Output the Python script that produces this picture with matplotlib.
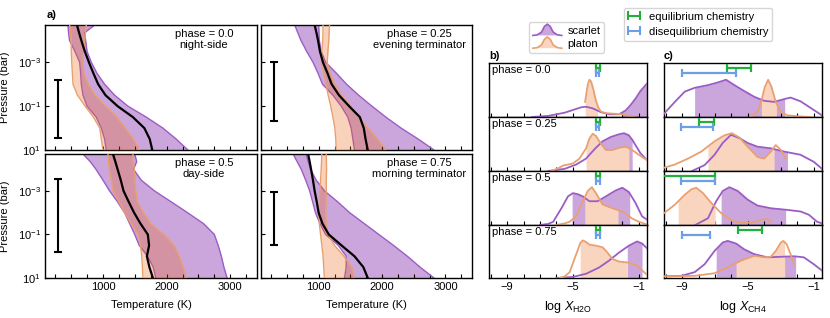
import numpy as np
import matplotlib
matplotlib.use('Agg')
import matplotlib.pyplot as plt
from matplotlib.legend_handler import HandlerBase
from matplotlib.lines import Line2D
from matplotlib.patches import Polygon
from matplotlib.ticker import MultipleLocator, FixedLocator, NullLocator

plt.rcParams['font.family'] = ['Liberation Sans', 'DejaVu Sans']
plt.rcParams['font.size'] = 8
plt.rcParams['mathtext.fontset'] = 'custom'
plt.rcParams['mathtext.rm'] = 'Liberation Sans'
plt.rcParams['mathtext.it'] = 'Liberation Sans:italic'
plt.rcParams['mathtext.bf'] = 'Liberation Sans:bold'

FS = 8

# ---------------- data ----------------
phases = ['0.0', '0.25', '0.5', '0.75']
phase_names = ['night-side', 'evening terminator', 'day-side', 'morning terminator']

# panel a: temperature profiles on a log-pressure grid (bar)
log_p = [-4.7, -4.35, -4.0, -3.5, -3.0, -2.5, -2.0, -1.5, -1.0, -0.5, 0.0, 0.5, 1.0]

scarlet_T_lo = [
    [451, 460, 475, 560, 634, 650, 660, 686, 750, 895, 974, 1026, 1052],
    [623, 670, 720, 810, 911, 990, 1060, 1225, 1356, 1460, 1513, 1540, 1565],
    [686, 800, 890, 1000, 1105, 1230, 1340, 1420, 1500, 1570, 1700, 1790, 1830],
    [597, 660, 725, 795, 859, 905, 950, 1020, 1110, 1310, 1434, 1434, 1408],
]
scarlet_T_hi = [
    [870, 712, 728, 750, 817, 906, 1026, 1183, 1392, 1680, 1941, 2150, 2334],
    [1000, 1005, 1010, 1040, 1110, 1280, 1440, 1630, 1840, 2060, 2300, 2570, 2820],
    [1500, 1530, 1480, 1600, 1811, 2073, 2330, 2580, 2750, 2810, 2860, 2900, 2950],
    [800, 835, 870, 960, 1094, 1300, 1490, 1720, 1950, 2180, 2400, 2600, 2820],
]
platon_T_lo = [
    [477, 490, 500, 503, 510, 520, 530, 600, 720, 850, 950, 975, 1000],
    [1068, 1068, 1065, 1050, 1042, 1080, 1115, 1150, 1190, 1225, 1255, 1270, 1277],
    [1078, 1085, 1100, 1130, 1157, 1250, 1340, 1440, 1550, 1590, 1610, 1620, 1628],
    [1050, 1045, 1040, 1030, 1016, 1010, 1005, 1010, 1030, 1050, 1070, 1080, 1090],
]
platon_T_hi = [
    [738, 725, 712, 695, 686, 700, 770, 880, 1040, 1220, 1350, 1480, 1575],
    [1173, 1165, 1160, 1146, 1135, 1180, 1260, 1360, 1510, 1630, 1780, 1930, 2062],
    [1471, 1480, 1490, 1505, 1515, 1540, 1640, 1750, 1960, 2120, 2200, 2260, 2310],
    [1120, 1122, 1125, 1120, 1120, 1115, 1110, 1120, 1150, 1250, 1400, 1520, 1560],
]
gcm_T = [
    [592, 625, 660, 715, 780, 850, 925, 1040, 1230, 1470, 1650, 1735, 1775],
    [937, 965, 990, 1020, 1068, 1140, 1205, 1320, 1480, 1650, 1712, 1740, 1775],
    [1157, 1195, 1230, 1280, 1324, 1405, 1490, 1590, 1705, 1725, 1690, 1730, 1785],
    [833, 858, 880, 910, 937, 970, 1000, 1060, 1160, 1360, 1565, 1705, 1775],
]
# pressure range bars (log10 bar)
range_T = 290
range_logp_top = [-2.2, -3.0, -3.53, -2.97]
range_logp_bot = [0.47, -0.32, -0.18, -0.5]

# panel b: log X_H2O posteriors (normalised density)
h2o_scarlet_x = [
    [-7.5, -6.5, -5.5, -5.0, -4.5, -4.2, -3.8, -3.3, -2.8, -2.2, -1.8, -1.5, -1.2, -0.9, -0.5],
    [-6.5, -5.5, -4.8, -4.2, -3.7, -3.2, -2.7, -2.2, -1.9, -1.6, -1.4, -1.1, -0.9, -0.5],
    [-7.0, -6.5, -6.2, -5.7, -5.3, -5.0, -4.7, -4.4, -4.0, -3.5, -3.0, -2.4, -2.0, -1.6, -1.2, -0.8, -0.5],
    [-6.0, -5.0, -4.2, -3.4, -2.8, -2.2, -1.6, -1.1, -0.8, -0.5],
]
h2o_scarlet_y = [
    [0.0, 0.02, 0.08, 0.13, 0.18, 0.19, 0.16, 0.09, 0.05, 0.05, 0.12, 0.22, 0.34, 0.48, 0.62],
    [0.0, 0.04, 0.12, 0.23, 0.4, 0.55, 0.63, 0.68, 0.7, 0.66, 0.58, 0.43, 0.33, 0.2],
    [0.0, 0.02, 0.06, 0.31, 0.53, 0.59, 0.57, 0.53, 0.44, 0.44, 0.53, 0.64, 0.69, 0.61, 0.41, 0.16, 0.1],
    [0.0, 0.02, 0.08, 0.2, 0.33, 0.48, 0.61, 0.69, 0.65, 0.56],
]
h2o_scarlet_ci = [[-2.0, -0.5], [-3.8, -1.4], [-5.05, -1.55], [-1.7, -0.8]]
h2o_platon_x = [
    [-4.26, -4.1, -4.0, -3.9, -3.75, -3.6, -3.45, -3.3, -3.0, -2.5, -2.0, -1.6, -1.3],
    [-6.3, -5.9, -5.6, -5.3, -5.0, -4.6, -4.2, -4.0, -3.8, -3.6, -3.4, -3.0, -2.6, -2.2, -1.8, -1.4, -1.0, -0.5],
    [-6.0, -5.5, -5.2, -4.8, -4.4, -4.1, -3.85, -3.6, -3.2, -2.6, -2.0, -1.4, -1.0, -0.5],
    [-5.8, -5.5, -5.2, -4.8, -4.55, -4.4, -4.2, -4.0, -3.6, -3.2, -2.9, -2.6, -2.2, -1.6, -1.1, -0.5],
]
h2o_platon_y = [
    [0.28, 0.6, 0.69, 0.66, 0.5, 0.3, 0.17, 0.1, 0.07, 0.06, 0.05, 0.02, 0.0],
    [0.0, 0.05, 0.1, 0.12, 0.14, 0.23, 0.42, 0.6, 0.69, 0.65, 0.55, 0.39, 0.39, 0.43, 0.45, 0.39, 0.3, 0.2],
    [0.0, 0.03, 0.06, 0.16, 0.44, 0.63, 0.7, 0.59, 0.38, 0.31, 0.25, 0.12, 0.06, 0.01],
    [0.0, 0.03, 0.11, 0.45, 0.66, 0.71, 0.68, 0.63, 0.61, 0.58, 0.48, 0.36, 0.31, 0.29, 0.23, 0.06],
]
h2o_platon_ci = [[-4.25, -3.5], [-4.2, -1.6], [-4.28, -2.26], [-4.56, -1.7]]
h2o_eq_lo = [-3.62, -3.62, -3.6, -3.59]
h2o_eq_hi = [-3.38, -3.38, -3.36, -3.35]
h2o_dis_lo = [-3.62, -3.61, -3.6, -3.59]
h2o_dis_hi = [-3.40, -3.39, -3.37, -3.36]

# panel c: log X_CH4 posteriors
ch4_scarlet_x = [
    [-10.1, -9.44, -8.84, -8.24, -7.43, -6.83, -6.33, -5.82, -5.22, -4.62, -4.02, -3.41, -2.81, -2.41, -1.8, -1.2, -0.5],
    [-8.4, -7.63, -7.03, -6.53, -6.03, -5.52, -5.02, -4.42, -3.61, -2.81, -1.8, -1.0, -0.5],
    [-8.2, -7.43, -6.93, -6.53, -6.13, -5.62, -5.02, -4.42, -3.61, -2.61, -1.8, -1.3, -0.8, -0.5],
    [-10.1, -9.04, -8.24, -7.63, -7.03, -6.53, -6.23, -5.72, -5.22, -4.62, -3.81, -3.0, -2.2, -1.6, -1.0, -0.5],
]
ch4_scarlet_y = [
    [0.06, 0.28, 0.47, 0.54, 0.59, 0.64, 0.69, 0.59, 0.48, 0.375, 0.3, 0.28, 0.33, 0.36, 0.29, 0.17, 0.03],
    [0.0, 0.11, 0.3, 0.52, 0.67, 0.61, 0.52, 0.45, 0.42, 0.36, 0.3, 0.17, 0.04],
    [0.0, 0.125, 0.44, 0.63, 0.7, 0.63, 0.47, 0.36, 0.31, 0.28, 0.25, 0.19, 0.06, 0.03],
    [0.03, 0.04, 0.11, 0.26, 0.51, 0.67, 0.7, 0.65, 0.54, 0.45, 0.39, 0.4, 0.41, 0.39, 0.26, 0.14],
]
ch4_scarlet_ci = [[-8.24, -2.77], [-7.3, -2.6], [-6.63, -2.71], [-6.93, -2.1]]
ch4_platon_x = [
    [-4.85, -4.42, -4.2, -3.97, -3.77, -3.57, -3.31, -3.0, -2.6, -1.8, -1.2],
    [-10.1, -9.44, -8.64, -7.83, -7.03, -6.43, -5.98, -5.52, -5.02, -4.42, -4.02, -3.61, -3.31, -3.0, -2.71],
    [-10.1, -9.44, -8.84, -8.44, -8.14, -7.73, -7.23, -6.63, -6.03, -5.42, -4.82, -4.22, -3.81, -3.61],
    [-10.1, -8.24, -7.03, -6.23, -5.42, -4.62, -4.02, -3.61, -3.31, -3.0, -2.85, -2.65, -2.41, -2.2],
]
ch4_platon_y = [
    [0.0, 0.09, 0.28, 0.56, 0.69, 0.56, 0.28, 0.09, 0.03, 0.01, 0.0],
    [0.06, 0.12, 0.23, 0.36, 0.55, 0.66, 0.7, 0.62, 0.45, 0.26, 0.23, 0.36, 0.48, 0.39, 0.23],
    [0.22, 0.375, 0.56, 0.66, 0.69, 0.59, 0.41, 0.22, 0.09, 0.04, 0.04, 0.09, 0.11, 0.06],
    [0.03, 0.04, 0.09, 0.2, 0.33, 0.42, 0.39, 0.4, 0.51, 0.67, 0.7, 0.64, 0.45, 0.26],
]
ch4_platon_ci = [[-4.18, -3.27], [-7.43, -3.41], [-9.24, -6.99], [-5.72, -2.77]]
ch4_eq_lo = [-6.29, -8.0, -10.4, -5.62]
ch4_eq_hi = [-4.82, -7.09, -6.99, -4.12]
ch4_dis_lo = [-9.02, -9.04, -9.08, -9.0]
ch4_dis_hi = [-5.72, -7.13, -6.99, -7.33]

# ---------------- style ----------------
PUR = '#9146b9'
PUR_LINE = '#9b5cc4'
ORA = '#ee6a20'
ORA_LINE = '#e9a070'
PUR_FILL = '#cba6dd'
ORA_FILL = '#f9d5c0'
GREEN = '#22b03a'
BLUE = '#6d9eea'

W, H = 830, 318
fig = plt.figure(figsize=(W / 100, H / 100), dpi=100)


def add_ax(x0, y0, x1, y1):
    return fig.add_axes([x0 / W, 1 - y1 / H, (x1 - x0) / W, (y1 - y0) / H])


# ---------------- panel a ----------------
a_boxes = [(45, 25, 257, 150), (261, 25, 472, 150), (45, 154, 257, 278), (261, 154, 472, 278)]
P = 10.0 ** np.array(log_p)
axes_a = []
for i, box in enumerate(a_boxes):
    ax = add_ax(*box)
    axes_a.append(ax)
    ax.fill_betweenx(P, scarlet_T_lo[i], scarlet_T_hi[i], color=PUR, alpha=0.48, lw=0, zorder=1)
    ax.plot(scarlet_T_lo[i], P, color=PUR_LINE, lw=1.0, zorder=2)
    ax.plot(scarlet_T_hi[i], P, color=PUR_LINE, lw=1.0, zorder=2)
    ax.fill_betweenx(P, platon_T_lo[i], platon_T_hi[i], color=ORA, alpha=0.3, lw=0, zorder=3)
    ax.plot(platon_T_lo[i], P, color=ORA_LINE, lw=1.0, zorder=4)
    ax.plot(platon_T_hi[i], P, color=ORA_LINE, lw=1.0, zorder=4)
    ax.plot(gcm_T[i], P, color='black', lw=1.6, zorder=5)
    ptop = 10.0 ** range_logp_top[i]
    pbot = 10.0 ** range_logp_bot[i]
    pmid = np.sqrt(ptop * pbot)
    ax.errorbar([range_T], [pmid], yerr=[[pmid - ptop], [pbot - pmid]], fmt='none',
                ecolor='black', elinewidth=1.5, capsize=3, capthick=1.5, zorder=6)
    ax.set_yscale('log')
    ax.set_ylim(10.0, 10.0 ** -4.7)
    ax.set_xlim(90, 3420)
    ax.xaxis.set_major_locator(MultipleLocator(1000))
    ax.xaxis.set_minor_locator(MultipleLocator(250))
    ax.yaxis.set_major_locator(FixedLocator([1e-3, 1e-1, 1e1]))
    ax.yaxis.set_minor_locator(NullLocator())
    ax.tick_params(which='both', direction='in', length=3, width=0.8, top=False, right=False,
                   labelsize=FS, pad=3)
    ax.text(0.75, 0.965, 'phase = %s\n%s' % (phases[i], phase_names[i]), transform=ax.transAxes,
            ha='center', va='top', multialignment='center', fontsize=FS, linespacing=1.1)
    if i < 2:
        ax.tick_params(labelbottom=False)
    else:
        ax.set_xlabel('Temperature (K)', fontsize=FS)
        ax.xaxis.set_label_coords(0.5, -0.18)
    if i % 2 == 1:
        ax.tick_params(labelleft=False)
    else:
        ax.set_ylabel('Pressure (bar)', fontsize=FS)
        ax.yaxis.set_label_coords(-0.165, 0.5)
    for s in ax.spines.values():
        s.set_linewidth(1.0)
axes_a[0].text(0.01, 1.04, 'a)', transform=axes_a[0].transAxes, fontweight='bold',
               fontsize=FS, va='bottom', ha='left')

# ---------------- panels b, c ----------------
row_edges = [63, 117, 171, 225, 278]


def kde_panel(x0, x1, sx, sy, sci, px, py, pci, eq_lo, eq_hi, dis_lo, dis_hi, xlabel, letter):
    axes = []
    for r in range(4):
        ax = add_ax(x0, row_edges[r], x1, row_edges[r + 1])
        axes.append(ax)
        xd = np.linspace(sci[r][0], sci[r][1], 200)
        ax.fill_between(xd, 0, np.interp(xd, sx[r], sy[r]), color=PUR_FILL, lw=0, zorder=1)
        xd = np.linspace(pci[r][0], pci[r][1], 200)
        ax.fill_between(xd, 0, np.interp(xd, px[r], py[r]), color=ORA_FILL, lw=0, zorder=2)
        ax.plot(sx[r], sy[r], color=PUR_LINE, lw=1.3, zorder=3)
        ax.plot(px[r], py[r], color=ORA_LINE, lw=1.3, zorder=4)
        c = 0.5 * (eq_lo[r] + eq_hi[r])
        ax.errorbar([c], [0.905], xerr=[[c - eq_lo[r]], [eq_hi[r] - c]], fmt='none',
                    ecolor=GREEN, elinewidth=1.6, capsize=3, capthick=1.6, zorder=6)
        c = 0.5 * (dis_lo[r] + dis_hi[r])
        ax.errorbar([c], [0.81], xerr=[[c - dis_lo[r]], [dis_hi[r] - c]], fmt='none',
                    ecolor=BLUE, elinewidth=1.6, capsize=3, capthick=1.6, zorder=6)
        ax.set_xlim(-10.1, -0.5)
        ax.set_ylim(0, 1)
        ax.set_yticks([])
        ax.xaxis.set_major_locator(FixedLocator([-9, -5, -1]))
        ax.xaxis.set_minor_locator(MultipleLocator(1))
        ax.tick_params(which='both', direction='in', length=3, width=0.8, top=False,
                       labelsize=FS, pad=3)
        if r < 3:
            ax.tick_params(labelbottom=False)
        else:
            ax.set_xlabel(xlabel, fontsize=9)
            ax.xaxis.set_label_coords(0.5, -0.40)
        if letter == 'b)':
            ax.text(0.02, 0.955, 'phase = %s' % phases[r], transform=ax.transAxes,
                    ha='left', va='top', fontsize=FS, zorder=7)
        for s in ax.spines.values():
            s.set_linewidth(1.0)
    axes[0].text(0.0, 1.04, letter, transform=axes[0].transAxes, fontweight='bold',
                 fontsize=FS, va='bottom', ha='left')
    return axes


axes_b = kde_panel(489, 647, h2o_scarlet_x, h2o_scarlet_y, h2o_scarlet_ci,
                   h2o_platon_x, h2o_platon_y, h2o_platon_ci,
                   h2o_eq_lo, h2o_eq_hi, h2o_dis_lo, h2o_dis_hi,
                   r'log $X_{\mathrm{H2O}}$', 'b)')
axes_c = kde_panel(664, 822, ch4_scarlet_x, ch4_scarlet_y, ch4_scarlet_ci,
                   ch4_platon_x, ch4_platon_y, ch4_platon_ci,
                   ch4_eq_lo, ch4_eq_hi, ch4_dis_lo, ch4_dis_hi,
                   r'log $X_{\mathrm{CH4}}$', 'c)')

# ---------------- legends ----------------
glyph_x = [0.0, 0.15, 0.3, 0.4, 0.5, 0.6, 0.7, 0.85, 1.0]
glyph_y = [0.0, 0.05, 0.3, 0.8, 1.0, 0.8, 0.3, 0.05, 0.0]


class KDEHandler(HandlerBase):
    def __init__(self, fill, edge):
        super().__init__()
        self.fill = fill
        self.edge = edge

    def create_artists(self, legend, orig_handle, xdescent, ydescent, width, height,
                       fontsize, trans):
        gx = -xdescent + width * np.array(glyph_x)
        gy = -ydescent - 0.2 * height + 1.45 * height * np.array(glyph_y)
        base = -ydescent - 0.2 * height
        pts = [(gx[1], base)] + list(zip(gx[1:-1], gy[1:-1])) + [(gx[-2], base)]
        poly = Polygon(pts, closed=True, facecolor=self.fill, edgecolor='none', transform=trans)
        ln = Line2D(gx, gy, color=self.edge, lw=1.2, transform=trans)
        return [poly, ln]


class BarHandler(HandlerBase):
    def __init__(self, color):
        super().__init__()
        self.color = color

    def create_artists(self, legend, orig_handle, xdescent, ydescent, width, height,
                       fontsize, trans):
        y = -ydescent + height / 2
        xa = -xdescent
        xb = -xdescent + width
        c = 0.45 * height
        kw = dict(color=self.color, lw=1.5, transform=trans)
        return [Line2D([xa, xb], [y, y], **kw), Line2D([xa, xa], [y - c, y + c], **kw),
                Line2D([xb, xb], [y - c, y + c], **kw)]


h_s = Line2D([], [])
h_p = Line2D([], [])
fig.legend([h_s, h_p], ['scarlet', 'platon'],
           handler_map={h_s: KDEHandler(PUR_FILL, PUR_LINE), h_p: KDEHandler(ORA_FILL, ORA_LINE)},
           loc='upper left', bbox_to_anchor=(529 / W, 1 - 22 / H), borderaxespad=0,
           handlelength=2.6, handletextpad=0.5, labelspacing=0.25, borderpad=0.35,
           fontsize=FS, framealpha=0.8)
h_e = Line2D([], [])
h_d = Line2D([], [])
fig.legend([h_e, h_d], ['equilibrium chemistry', 'disequilibrium chemistry'],
           handler_map={h_e: BarHandler(GREEN), h_d: BarHandler(BLUE)},
           loc='upper left', bbox_to_anchor=(624 / W, 1 - 8 / H), borderaxespad=0,
           handlelength=1.1, handletextpad=0.8, labelspacing=0.45, borderpad=0.35,
           fontsize=FS, framealpha=0.8)

fig.savefig('out.png', dpi=100)
